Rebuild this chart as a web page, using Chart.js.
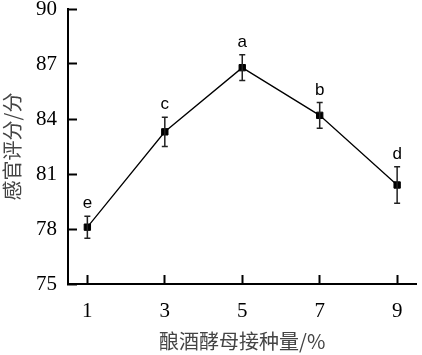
<!DOCTYPE html>
<html>
<head>
<meta charset="utf-8">
<script src="https://cdn.jsdelivr.net/npm/chart.js@4/dist/chart.umd.min.js"></script>
<style>
  html, body { margin: 0; padding: 0; background: #fff; }
  #wrap { width: 422px; height: 355px; }
</style>
</head>
<body>
<div id="wrap"><canvas id="chart" width="422" height="355"></canvas></div>
<script>
// inoculation amount of S. cerevisiae (%) vs sensory score
const doses = [1, 3, 5, 7, 9]
const scores = [78.1, 83.3, 86.8, 84.2, 80.4]
const errors = [0.6, 0.8, 0.7, 0.7, 1.0]
const letters = ["e", "c", "a", "b", "d"]
const xTicks = [1, 3, 5, 7, 9]
const yTicks = [75, 78, 81, 84, 87, 90]

const serif = "'Liberation Serif', 'DejaVu Serif', serif"
const cjk = "'Noto Sans CJK SC', sans-serif"

// error bars + significance letters, positioned through the chart scales
const errorBars = {
  id: "errorBars",
  afterDatasetsDraw(chart) {
    const { ctx, scales: { x, y } } = chart
    ctx.save()
    ctx.strokeStyle = "#222"
    ctx.lineWidth = 1.5
    doses.forEach((d, i) => {
      const px = x.getPixelForValue(d)
      const top = y.getPixelForValue(scores[i] + errors[i])
      const bot = y.getPixelForValue(scores[i] - errors[i])
      ctx.beginPath()
      ctx.moveTo(px, top); ctx.lineTo(px, bot)
      ctx.moveTo(px - 3, top); ctx.lineTo(px + 3, top)
      ctx.moveTo(px - 3, bot); ctx.lineTo(px + 3, bot)
      ctx.stroke()
    })
    ctx.fillStyle = "#000"
    ctx.font = "17px 'Liberation Sans', Arial, sans-serif"
    ctx.textAlign = "center"
    ctx.textBaseline = "alphabetic"
    doses.forEach((d, i) => {
      const px = x.getPixelForValue(d)
      const top = y.getPixelForValue(scores[i] + errors[i])
      ctx.fillText(letters[i], px, top - 8)
    })
    ctx.restore()
  }
}

new Chart(document.getElementById("chart"), {
  type: "line",
  data: {
    datasets: [{
      data: doses.map((d, i) => ({ x: d, y: scores[i] })),
      borderColor: "#000",
      borderWidth: 1.3,
      pointStyle: "rect",
      pointRadius: 4.5,
      pointBorderWidth: 1,
      pointBackgroundColor: "#000",
      pointBorderColor: "#000",
      tension: 0
    }]
  },
  options: {
    responsive: false,
    animation: false,
    devicePixelRatio: 1,
    layout: { padding: { top: 9, right: 1, left: 0, bottom: 0 } },
    plugins: { legend: { display: false }, tooltip: { enabled: false } },
    scales: {
      x: {
        type: "linear",
        min: 0.5,
        max: 9.5,
        afterBuildTicks: s => { s.ticks = xTicks.map(v => ({ value: v })) },
        afterFit: s => { s.height = 71; s.paddingLeft = 0; s.paddingRight = 0 },
        border: { display: true, color: "#000", width: 2 },
        grid: { drawOnChartArea: false, drawTicks: true, tickLength: -9, tickWidth: 2, tickColor: "#000" },
        ticks: { color: "#000", font: { family: serif, size: 21 }, padding: 24, maxRotation: 0 },
        title: { display: true, text: "酿酒酵母接种量/%", color: "#444", font: { family: cjk, size: 20 }, padding: { top: 0, bottom: 2 } }
      },
      y: {
        min: 75,
        max: 90,
        afterBuildTicks: s => { s.ticks = yTicks.map(v => ({ value: v })) },
        afterFit: s => { s.width = 68; s.paddingTop = 0; s.paddingBottom = 0 },
        border: { display: true, color: "#000", width: 2 },
        grid: { drawOnChartArea: false, drawTicks: true, tickLength: -9, tickWidth: 2, tickColor: "#000" },
        ticks: { color: "#000", font: { family: serif, size: 21 }, padding: 20 },
        title: { display: true, text: "感官评分/分", color: "#444", font: { family: cjk, size: 20 }, padding: 0 }
      }
    }
  },
  plugins: [errorBars]
})
</script>
</body>
</html>
